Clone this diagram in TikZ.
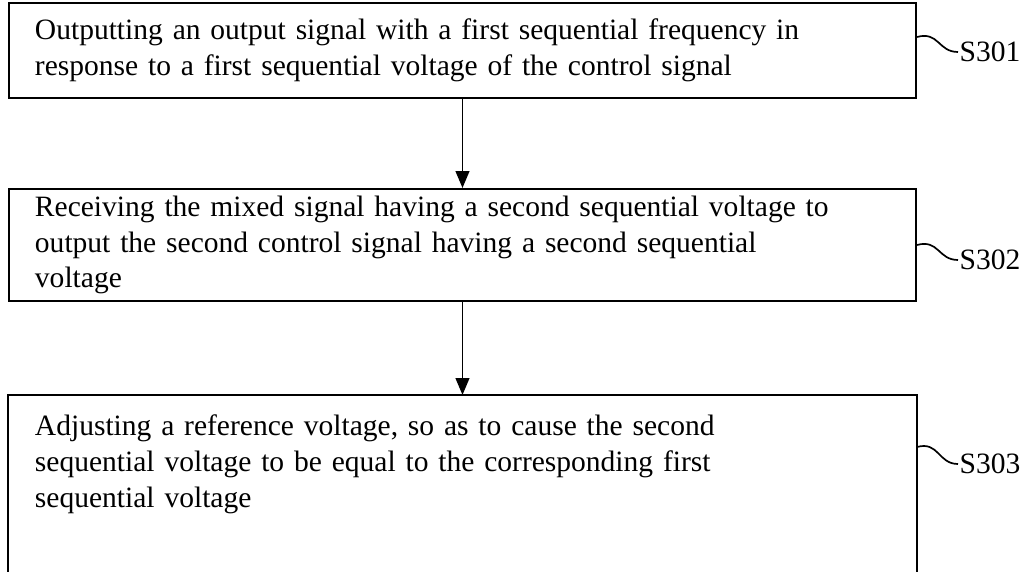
\documentclass[tikz,border=0pt]{standalone}
\usepackage{fontspec}
\setmainfont{Liberation Serif}
\usetikzlibrary{arrows.meta, positioning, calc}

\begin{document}
\begin{tikzpicture}[
    font=\fontsize{21}{25.5}\selectfont,
    stepbox/.style={
        draw,
        line width=1.4pt,
        anchor=north west,
        text width=21.375cm,
        align=left,
        inner xsep=0.65cm,
        inner ysep=0pt
    },
    steplabel/.style={
        anchor=west,
        inner sep=1pt
    },
    flow/.style={
        -{Triangle[length=4.2mm, width=3.4mm]},
        line width=1.4pt
    },
    lead/.style={
        line width=1.2pt
    }
]

% Ramme
\useasboundingbox (0,0) rectangle (25.65,-14.3);
\clip (0,0) rectangle (25.65,-14.3);

% Trin
\node[stepbox, minimum height=2.375cm] (b1) at (0.2,-0.05) {%
Outputting an output signal with a first sequential frequency in\\
response to a first sequential voltage of the control signal};

\node[stepbox, minimum height=2.8cm] (b2) at (0.2,-4.7) {%
Receiving the mixed signal having a second sequential voltage to\\
output the second control signal having a second sequential\\
voltage};

\node[stepbox, draw=none, minimum height=3.4cm] (b3) at (0.2,-9.875) {%
Adjusting a reference voltage, so as to cause the second\\
sequential voltage to be equal to the corresponding first\\
sequential voltage};

% Tredje ramme fortsaetter forbi kanten
\draw[line width=1.4pt]
    ($(b3.north west)+(0,-6)$) -- (b3.north west)
    -- (b3.north east) -- ++(0,-6);

% Pile
\draw[flow] (b1.south) -- (b2.north);
\draw[flow] (b2.south) -- (b3.north);

% Trinmaerker
\coordinate (l1) at ($(b1.north east)+(0,-0.875)$);
\coordinate (l2) at ($(b2.north east)+(0,-1.425)$);
\coordinate (l3) at ($(b3.north east)+(0,-1.3)$);

\node[steplabel] (s1) at (23.95,-1.3) {S301};
\node[steplabel] (s2) at (23.95,-6.5) {S302};
\node[steplabel] (s3) at (23.95,-11.6) {S303};

\foreach \i in {1,2,3} {
    \draw[lead] (l\i) .. controls +(0.55,0.15) and +(-0.5,0) .. (s\i.west);
}

\end{tikzpicture}
\end{document}
